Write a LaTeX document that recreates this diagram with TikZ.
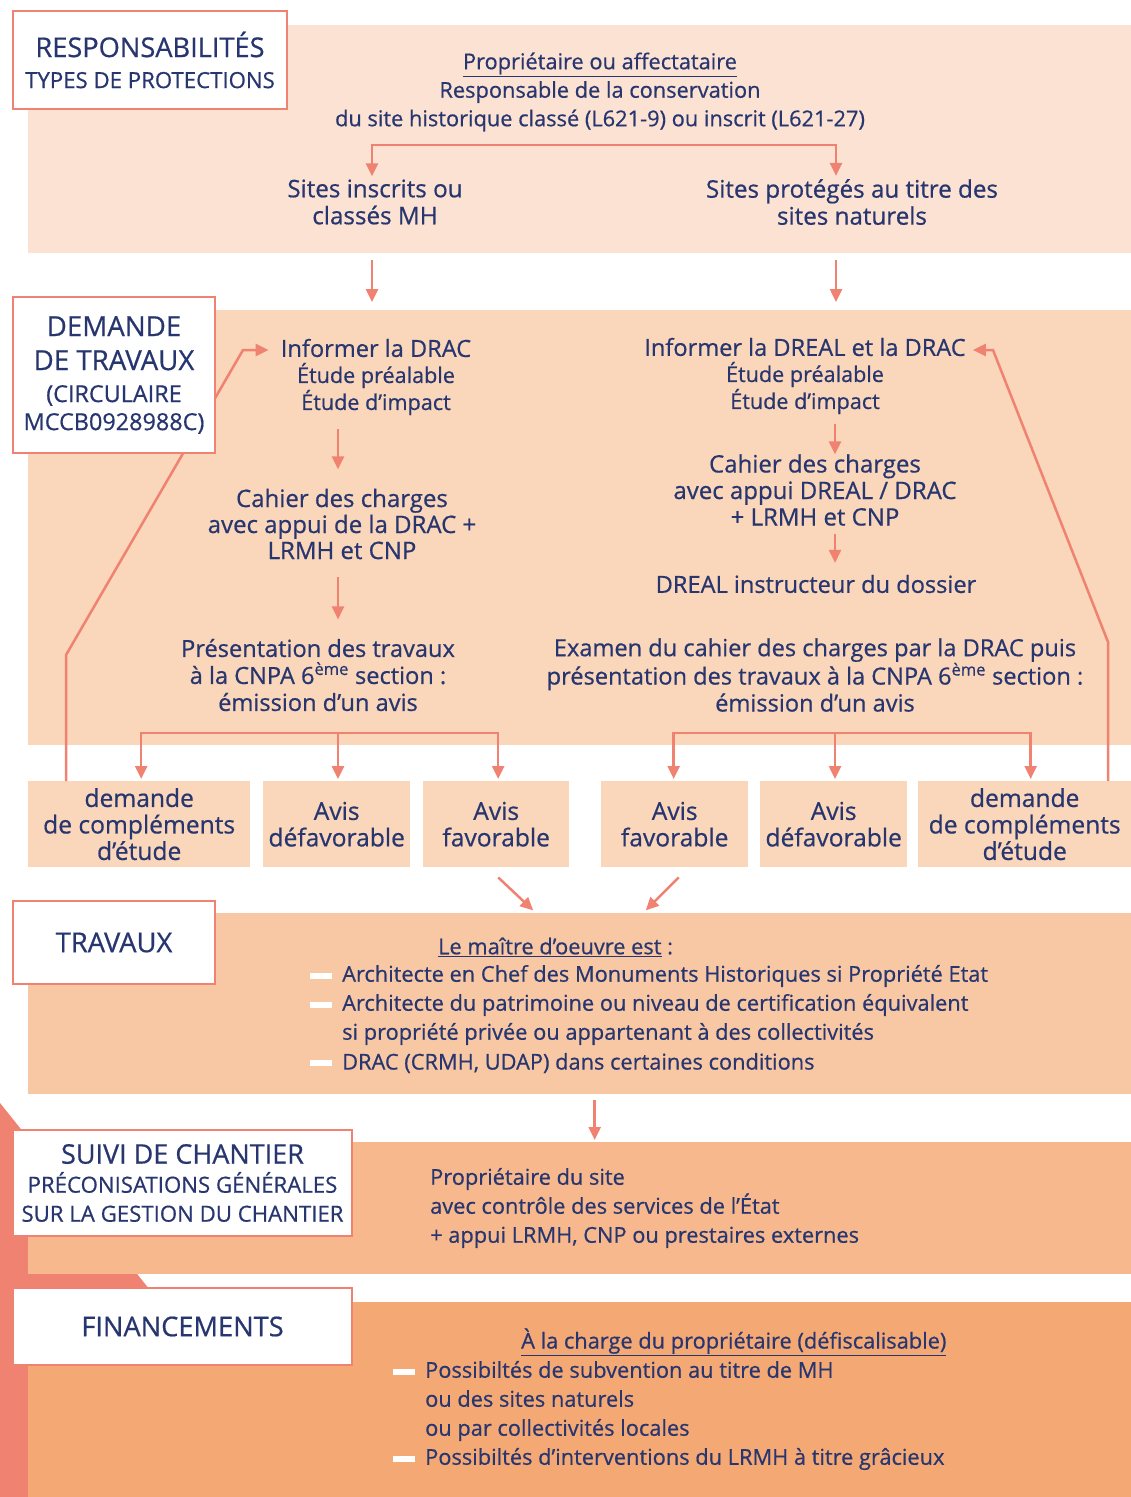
\documentclass[tikz,border=0pt]{standalone}
\usepackage{fontspec}
\setmainfont{Open Sans}[FakeBold=0.6]
\usetikzlibrary{arrows.meta}
\definecolor{navy}{RGB}{40,54,112}
\definecolor{salmon}{RGB}{240,130,114}
\definecolor{cA}{RGB}{252,226,210}
\definecolor{cB}{RGB}{250,214,186}
\definecolor{cC}{RGB}{248,200,164}
\definecolor{cD}{RGB}{246,184,140}
\definecolor{cE}{RGB}{244,168,116}
\newcommand{\fz}[2]{\fontsize{#1}{#2}\selectfont}
\tikzset{
  panel/.style={draw=none, inner sep=0pt, anchor=north west, minimum width=1103},
  labbox/.style={draw=salmon, line width=2pt, fill=white, inner sep=0pt, anchor=north west, align=center, text=navy},
  txt/.style={inner sep=0pt, text=navy, align=center, font=\fz{23.6}{27}},
  btxt/.style={inner sep=0pt, text=navy, align=left, anchor=west, font=\fz{21.8}{29}},
  res/.style={fill=cB, inner sep=0pt, anchor=north west, minimum height=86, align=center, text=navy, font=\fz{24.6}{26.5}},
  bul/.style={fill=white, inner sep=0pt, minimum width=22, minimum height=6},
  arr/.style={draw=salmon, line width=2.5pt, -{Triangle[length=13pt,width=12pt]}},
  arrs/.style={draw=salmon, line width=2.5pt, {Triangle[length=13pt,width=12pt]}-{Triangle[length=13pt,width=12pt]}},
}
\begin{document}
\begin{tikzpicture}[x=1pt,y=-1pt]
\useasboundingbox (0,0) rectangle (1131,1497);
% background salmon wedge on the left
\fill[salmon] (0,1103) -- (170,1315) -- (170,1497) -- (0,1497) -- cycle;
% panels
\node[panel, fill=cA, minimum height=228] (panel1) at (28,25) {};
\node[panel, fill=cB, minimum height=435] (panel2) at (28,310) {};
\node[panel, fill=cC, minimum height=181] (panel3) at (28,913) {};
\node[panel, fill=cD, minimum height=132] (panel4) at (28,1142) {};
\node[panel, fill=cE, minimum height=195] (panel5) at (28,1302) {};
% panel 1 texts
\node[txt, font=\fz{21.8}{28.5}] (owner) at (600,92)
  {\underline{Propriétaire ou affectataire}\\Responsable de la conservation\\du site historique classé (L621-9) ou inscrit (L621-27)};
\coordinate (br1) at (600,145);
\node[txt, font=\fz{24.2}{27}] (sitesMH) at (375,202) {Sites inscrits ou\\classés MH};
\node[txt, font=\fz{24.2}{27}] (sitesNat) at (852,202) {Sites protégés au titre des\\sites naturels};
% panel 2 left column
\node[txt] (inf1t) at (376,348) {Informer la DRAC};
\node[txt, font=\fz{21.6}{27}] (inf1) at (376,389) {Étude préalable\\Étude d’impact};
\node[txt, font=\fz{24}{26}] (cah1) at (342,524) {Cahier des charges\\avec appui de la DRAC +\\LRMH et CNP};
\node[txt] (pres1) at (318,675) {Présentation des travaux\\à la CNPA 6\textsuperscript{ème} section :\\émission d’un avis};
% panel 2 right column
\node[txt] (inf2t) at (805,347) {Informer la DREAL et la DRAC};
\node[txt, font=\fz{21.6}{27}] (inf2) at (805,388) {Étude préalable\\Étude d’impact};
\node[txt, font=\fz{24}{26.5}] (cah2) at (815,490) {Cahier des charges\\avec appui DREAL / DRAC\\+ LRMH et CNP};
\node[txt] (drl) at (816,584) {DREAL instructeur du dossier};
\node[txt] (exa) at (815,675) {Examen du cahier des charges par la DRAC puis\\présentation des travaux à la CNPA 6\textsuperscript{ème} section :\\émission d’un avis};
% result boxes
\node[res, minimum width=222] (r1) at (28,781) {demande\\de compléments\\d’étude};
\node[res, minimum width=147] (r2) at (263,781) {Avis\\défavorable};
\node[res, minimum width=146] (r3) at (423,781) {Avis\\favorable};
\node[res, minimum width=147] (r4) at (601,781) {Avis\\favorable};
\node[res, minimum width=147] (r5) at (760,781) {Avis\\défavorable};
\node[res, minimum width=213] (r6) at (918,781) {demande\\de compléments\\d’étude};
\coordinate (br2) at (338,733);
\coordinate (br3) at (835,733);
% TRAVAUX texts
\node[btxt] (moe) at (438,947) {\underline{Le maître d’oeuvre est} :};
\node[bul] (b1) at (321,976) {};
\node[bul] (b2) at (321,1005) {};
\node[bul] (b3) at (321,1063) {};
\node[btxt] (t1) at (342,976) {Architecte en Chef des Monuments Historiques si Propriété Etat};
\node[btxt] (t2) at (342,1019.5) {Architecte du patrimoine ou niveau de certification équivalent\\si propriété privée ou appartenant à des collectivités};
\node[btxt] (t3) at (342,1063) {DRAC (CRMH, UDAP) dans certaines conditions};
% SUIVI texts
\node[btxt] (suivi) at (430,1208) {Propriétaire du site\\avec contrôle des services de l’État\\+ appui LRMH, CNP ou prestaires externes};
% FIN texts
\node[btxt] (fin0) at (521,1342) {\underline{À la charge du propriétaire (défiscalisable)}};
\node[bul] (b4) at (404,1372) {};
\node[bul] (b5) at (404,1459) {};
\node[btxt] (fin1) at (425,1401) {Possibiltés de subvention au titre de MH\\ou des sites naturels\\ou par collectivités locales};
\node[btxt] (fin2) at (425,1459) {Possibiltés d’interventions du LRMH à titre grâcieux};
% connectors
\draw[arrs, shorten <=3pt, shorten >=3pt] ([xshift=-3pt]sitesMH.north) |- (br1) -| ([xshift=-16pt]sitesNat.north);
\draw[arr, shorten <=7pt, shorten >=8pt] ([xshift=-3pt]sitesMH.south |- panel1.south) -- ([xshift=-3pt]sitesMH.south |- panel2.north);
\draw[arr, shorten <=7pt, shorten >=8pt] ([xshift=-16pt]sitesNat.south |- panel1.south) -- ([xshift=-16pt]sitesNat.south |- panel2.north);
\draw[arr] (inf1.south) ++(-38,14) -- ++(0,40);
\draw[arr] (cah1.south) ++(-4,18) -- ++(0,42);
\draw[arr] (inf2.south) ++(30,10) -- ++(0,30);
\draw[arr] (cah2.south) ++(20,8) -- ++(0,29);
\draw[arrs, shorten <=2pt, shorten >=2pt] ([xshift=2pt]r1.north) |- (br2) -| ([xshift=2pt]r3.north);
\draw[arr, shorten >=2pt] (br2) -- (br2 |- r2.north);
\draw[arrs, shorten <=2pt, shorten >=2pt] ([xshift=-1pt]r4.north) |- (br3) -| ([xshift=6pt]r6.north);
\draw[arr, shorten >=2pt] (br3) -- (br3 |- r5.north);
\draw[arr, shorten >=12pt] ([xshift=38pt]r1.north west) -- ++(0,-126) -- ++(177,-305) -- (inf1t.west |- 0,350);
\draw[arr, shorten >=7pt] ([xshift=190pt]r6.north west) -- ++(0,-139) -- ++(-115,-292) -- (inf2t.east |- 0,350);
\draw[arr] ([shift={(2,10)}]r3.south) -- ++(35,33);
\draw[arr] ([shift={(4,10)}]r4.south) -- ++(-33,33);
\draw[arr, shorten <=6pt, shorten >=2pt] ([xshift=15pt]panel3.south) -- ([xshift=15pt]panel4.north);
% label boxes (drawn on top of connectors)
\node[labbox, minimum width=274, minimum height=98, font=\fz{22.2}{31}] (lab1) at (12,10)
  {{\fz{27.2}{31}RESPONSABILITÉS}\\TYPES DE PROTECTIONS};
\node[labbox, minimum width=202, minimum height=156, font=\fz{23.4}{28}] (lab2) at (12,296)
  {{\fz{27.7}{34}DEMANDE}\\[6pt]{\fz{27.7}{34}DE TRAVAUX}\\[4pt](CIRCULAIRE\\MCCB0928988C)};
\node[labbox, minimum width=202, minimum height=83, font=\fz{27.4}{30}] (lab3) at (12,900) {TRAVAUX};
\node[labbox, minimum width=339, minimum height=106, font=\fz{22.2}{29}] (lab4) at (12,1129)
  {{\fz{27}{29}SUIVI DE CHANTIER}\\PRÉCONISATIONS GÉNÉRALES\\SUR LA GESTION DU CHANTIER};
\node[labbox, minimum width=339, minimum height=77, font=\fz{27.2}{30}] (lab5) at (12,1287) {FINANCEMENTS};
\end{tikzpicture}
\end{document}
